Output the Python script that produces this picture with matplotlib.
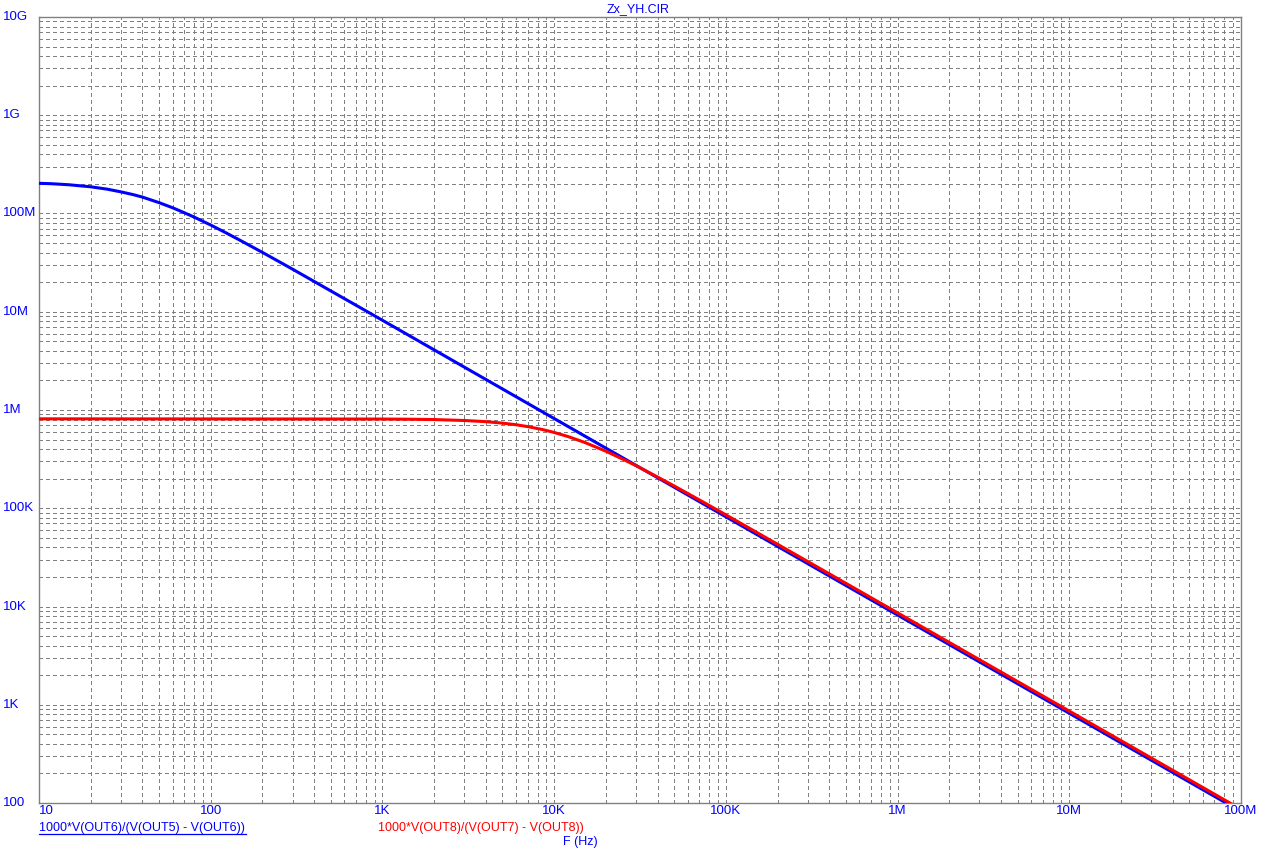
import matplotlib
matplotlib.use("Agg")
import matplotlib.pyplot as plt
from matplotlib.lines import Line2D
import matplotlib.transforms as mtransforms

plt.rcParams['font.family'] = ['Liberation Sans', 'DejaVu Sans']

# ---- data ----
title = "Zx_YH.CIR"
blue_label = "1000*V(OUT6)/(V(OUT5) - V(OUT6))"
red_label = "1000*V(OUT8)/(V(OUT7) - V(OUT8))"
x_label = "F (Hz)"

blue_freq = [10, 12, 15, 20, 25, 30, 35, 40, 50, 60, 70, 80, 100, 120, 150, 200, 300, 500, 700,
             1e3, 1e4, 1e5, 1e6, 1e7, 1e8]
blue_vals = [2.03e8, 2.007e8, 1.96e8, 1.87e8, 1.768e8, 1.66e8, 1.563e8, 1.47e8, 1.29e8, 1.144e8,
             1.02e8, 9.2e7, 7.63e7, 6.49e7, 5.28e7, 4.02e7, 2.71e7, 1.63e7, 1.168e7,
             8.19e6, 8.19e5, 8.19e4, 8.19e3, 819, 81.9]

red_freq = [10, 1000, 1500, 2000, 3000, 4000, 5000, 6000, 7000, 8500, 1e4, 1.2e4, 1.5e4, 2e4,
            2.5e4, 3e4, 4e4, 5e4, 7e4, 1e5, 2e5, 1e6, 1e7, 1e8]
red_vals = [8.13e5, 8.09e5, 8.05e5, 7.99e5, 7.82e5, 7.61e5, 7.35e5, 7.08e5, 6.78e5, 6.34e5,
            5.91e5, 5.38e5, 4.69e5, 3.81e5, 3.17e5, 2.71e5, 2.08e5, 1.686e5, 1.217e5, 8.57e4,
            4.30e4, 8618, 862, 86.2]

x_ticks = [10, 100, 1e3, 1e4, 1e5, 1e6, 1e7, 1e8]
x_tick_labels = ["10", "100", "1K", "10K", "100K", "1M", "10M", "100M"]
y_ticks = [100, 1e3, 1e4, 1e5, 1e6, 1e7, 1e8, 1e9, 1e10]
y_tick_labels = ["100", "1K", "10K", "100K", "1M", "10M", "100M", "1G", "10G"]

# ---- figure ----
W, H = 1276, 857
fig = plt.figure(figsize=(W / 100, H / 100), dpi=100)
L, R, T, B = 39, 1241, 17, 803
ax = fig.add_axes([L / W, (H - B) / H, (R - L) / W, (B - T) / H])
ax.set_xscale('log')
ax.set_yscale('log')
ax.set_xlim(10, 1e8)
ax.set_ylim(100, 1e10)

grid_kw = dict(color='#808080', linewidth=0.72, linestyle=(0, (4, 3)), antialiased=False)
ax.grid(True, which='both', axis='both', **grid_kw)
ax.set_axisbelow(True)
for s in ax.spines.values():
    s.set_color('#808080')
    s.set_linewidth(1.0)

ax.plot(blue_freq, blue_vals, color='#0000ff', linewidth=2.2, solid_capstyle='butt', zorder=3)
ax.plot(red_freq, red_vals, color='#ff0000', linewidth=2.2, solid_capstyle='butt', zorder=4)

ax.set_xticks(x_ticks)
ax.set_yticks(y_ticks)
ax.tick_params(which='both', length=0, labelbottom=False, labelleft=False)
ax.minorticks_on()
ax.tick_params(which='minor', length=0)

fs = 9.5
blue = '#0000ff'
# y tick labels, left aligned at the figure edge
ytr = mtransforms.blended_transform_factory(fig.transFigure, ax.transData)
for v, lab in zip(y_ticks, y_tick_labels):
    ax.text(3 / W, v, lab, transform=ytr, ha='left', va='center', color=blue, fontsize=fs, clip_on=False)

# x tick labels
xtr = mtransforms.blended_transform_factory(ax.transData, fig.transFigure)
for i, (v, lab) in enumerate(zip(x_ticks, x_tick_labels)):
    ha = 'left' if i == 0 else 'center'
    ax.text(v, (H - 811) / H, lab, transform=xtr, ha=ha, va='center', color=blue, fontsize=fs, clip_on=False)

# title
fig.text(638 / W, (H - 9) / H, title, ha='center', va='center', color=blue, fontsize=9)

# legend texts
fig.text(39 / W, (H - 828) / H, blue_label, ha='left', va='center', color=blue, fontsize=9)
fig.add_artist(Line2D([39 / W, 246 / W], [(H - 833.5) / H] * 2, color=blue, linewidth=0.9,
                      transform=fig.transFigure))
fig.text(378 / W, (H - 828) / H, red_label, ha='left', va='center', color='#ff0000', fontsize=9)
fig.text(563 / W, (H - 842) / H, x_label, ha='left', va='center', color=blue, fontsize=9)

fig.savefig('out.png', dpi=100, facecolor='white')
